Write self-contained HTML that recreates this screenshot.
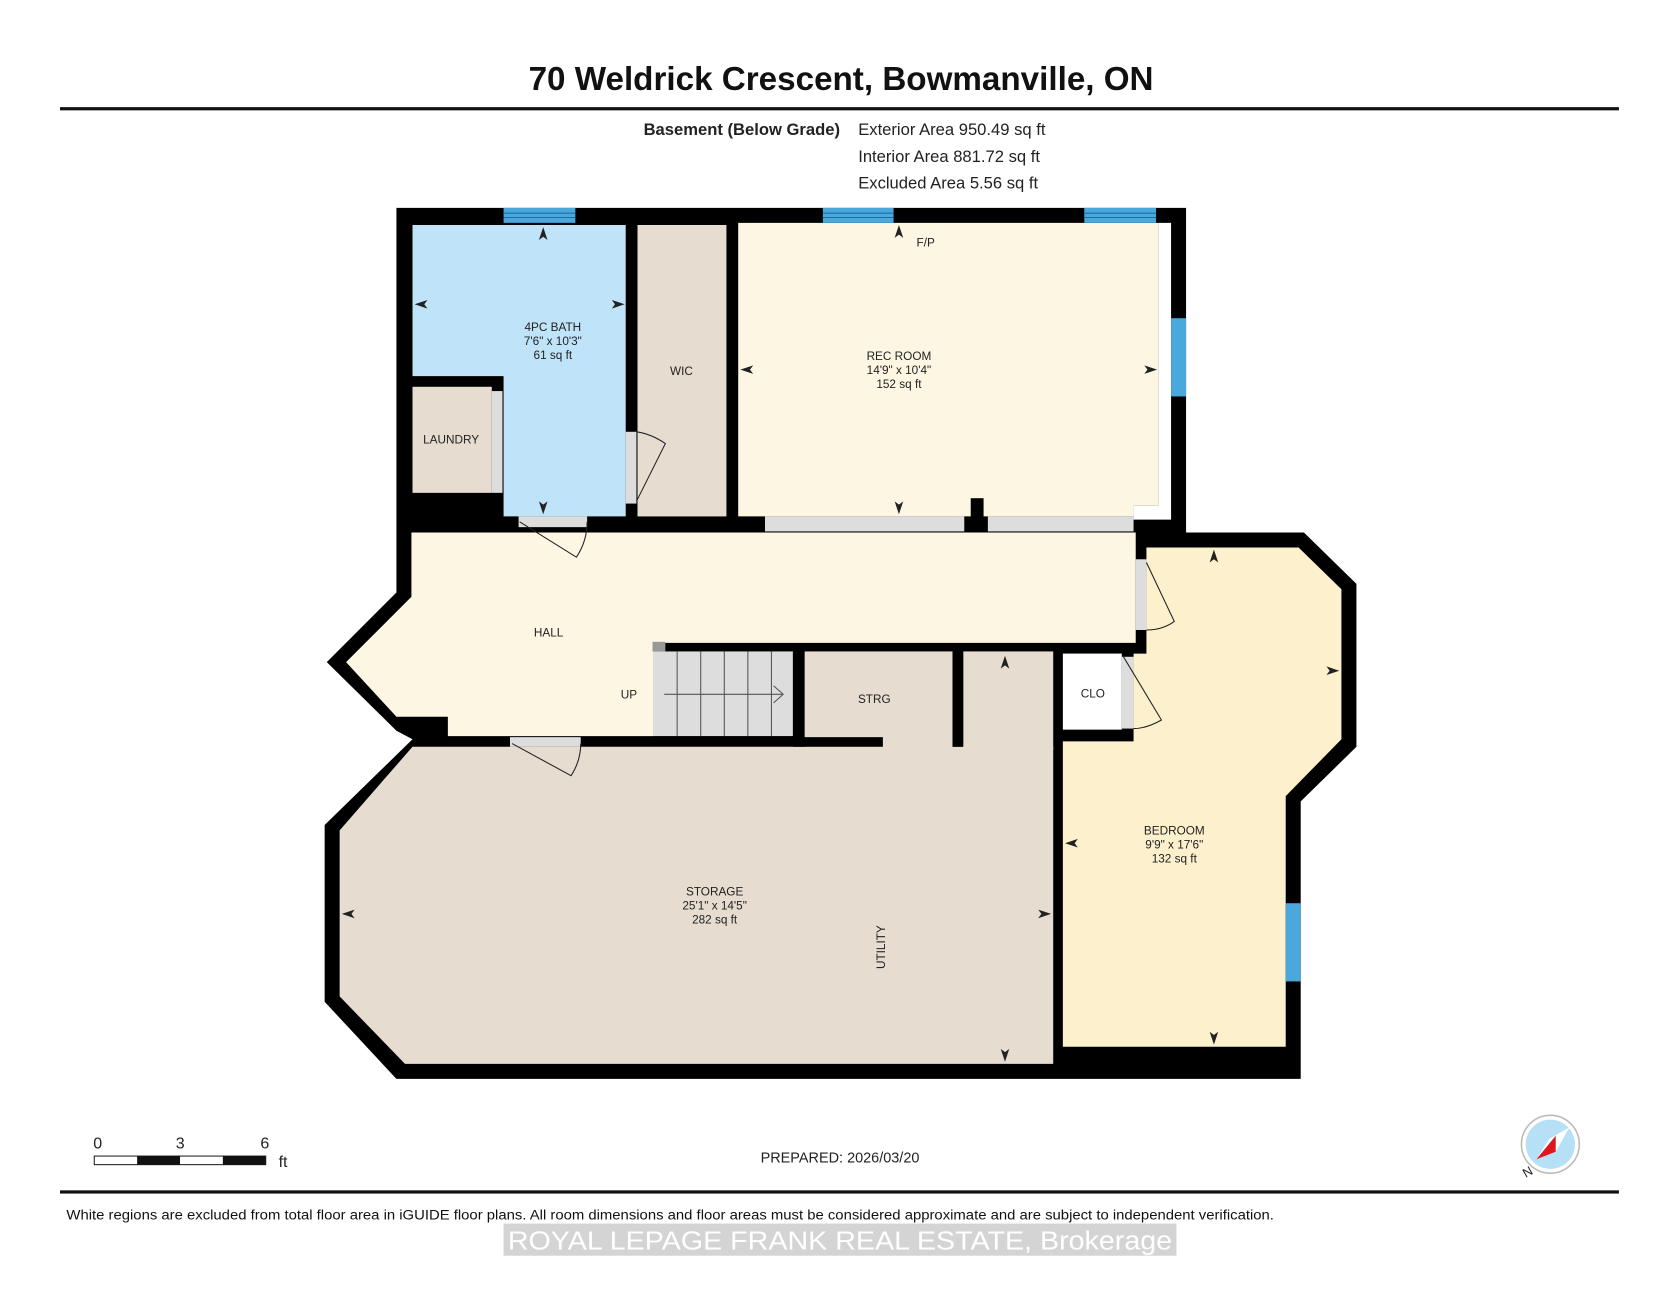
<!DOCTYPE html>
<html><head><meta charset="utf-8"><style>
html,body{margin:0;padding:0;background:#fff}
svg{display:block}
text{font-family:"Liberation Sans",Arial,sans-serif}
</style></head><body>
<svg width="1680" height="1299" viewBox="0 0 1568 1212.4" xmlns="http://www.w3.org/2000/svg">
<rect width="1568" height="1213" fill="#fff"/>
<text x="785" y="84" font-size="31" font-weight="bold" text-anchor="middle" fill="#111">70 Weldrick Crescent, Bowmanville, ON</text>
<rect x="56" y="100" width="1455" height="3" fill="#111"/>
<text x="784" y="126" font-size="15.5" font-weight="bold" text-anchor="end" fill="#222">Basement (Below Grade)</text>
<text x="801" y="126" font-size="15.5" fill="#222">Exterior Area 950.49 sq ft</text>
<text x="801" y="151" font-size="15.5" fill="#222">Interior Area 881.72 sq ft</text>
<text x="801" y="176" font-size="15.5" fill="#222">Excluded Area 5.56 sq ft</text>

<polygon fill="#000" points="370,194 1107,194 1107,497 1217,497 1266,545 1266,697 1214,748 1214,1007 370,1007 303,935 303,770 385,690 370,682 305,618 370,553"/>

<polygon fill="#bfe3f9" points="385,210 584,210 584,482 470,482 470,351 385,351"/>
<rect x="385" y="361" width="74" height="99" fill="#e6ddd0"/>
<rect x="459" y="365" width="10" height="95" fill="#ddd"/>
<rect x="584" y="403" width="10" height="67" fill="#ddd"/>
<rect x="595" y="210" width="83" height="272" fill="#e6ddd0"/>
<polygon fill="#fdf6e3" points="689,208 1081,208 1081,472 1058,472 1058,482 689,482"/>
<polygon fill="#fff" points="1081,208 1093,208 1093,485 1058,485 1058,472 1081,472"/>
<rect x="714" y="482" width="186" height="14" fill="#ddd"/>
<rect x="922" y="482" width="136" height="14" fill="#ddd"/>
<rect x="906" y="465" width="12" height="18" fill="#000"/>
<polygon fill="#fdf6e3" points="384,497 1060,497 1060,600 610,600 610,687 418,687 418,669 370,669 323,618 384,557"/>
<rect x="1060" y="522" width="10" height="66" fill="#ddd"/>
<rect x="484" y="482" width="64" height="10" fill="#ddd"/>
<rect x="610" y="608" width="130" height="79" fill="#ddd"/>
<g stroke="#555" stroke-width="1"><line x1="632" y1="608" x2="632" y2="687"/><line x1="654" y1="608" x2="654" y2="687"/><line x1="676" y1="608" x2="676" y2="687"/><line x1="698" y1="608" x2="698" y2="687"/><line x1="720" y1="608" x2="720" y2="687"/>
<line x1="620" y1="648" x2="730" y2="648"/><polyline fill="none" points="722,640 731,648 722,656"/></g>
<rect x="609" y="599" width="12" height="9" fill="#999"/>
<rect x="751" y="608" width="138" height="92" fill="#e6ddd0"/>
<rect x="899" y="608" width="84" height="92" fill="#e6ddd0"/>
<polygon fill="#e6ddd0" points="385,697 983,697 983,993 378,993 317,930 317,775"/>
<rect x="740" y="688" width="84" height="9" fill="#000"/>
<rect x="889" y="608" width="10" height="89" fill="#000"/>
<rect x="476" y="688" width="66" height="9" fill="#ddd"/>
<polygon fill="#fdf0cc" points="1070,511 1212,511 1252,550 1252,690 1200,743 1200,977 992,977 992,692 1058,692 1058,610 1070,610"/>
<rect x="992" y="610" width="55" height="71" fill="#fff"/>
<rect x="1047" y="613" width="11" height="67" fill="#ddd"/>
<g fill="#4aa8dc"><rect x="470" y="194" width="67" height="14"/><rect x="768" y="194" width="66" height="14"/><rect x="1012" y="194" width="67" height="14"/><rect x="1093" y="297" width="14" height="73"/><rect x="1200" y="843" width="14" height="73"/></g>
<g stroke="#1d6e9e" stroke-width="1"><line x1="470" y1="199" x2="537" y2="199"/><line x1="470" y1="203" x2="537" y2="203"/><line x1="768" y1="199" x2="834" y2="199"/><line x1="768" y1="203" x2="834" y2="203"/><line x1="1012" y1="199" x2="1079" y2="199"/><line x1="1012" y1="203" x2="1079" y2="203"/></g>
<g fill="none" stroke="#222" stroke-width="1">
<path d="M485,487 L538,520 Q548,505 548,487"/>
<path d="M594,468 L621,414 Q608,405 594,403"/>
<path d="M1070,525 L1096,580 Q1085,588 1070,588"/>
<path d="M1048,612 L1084,672 Q1070,680 1058,680"/>
<path d="M478,694 L533,724 Q542,710 542,694"/>
</g>
<g fill="#222">
<polygon points="507,212 503,224 507,221 511,224"/>
<polygon points="507,480 503,468 507,471 511,468"/>
<polygon points="387,284 399,280 396,284 399,288"/>
<polygon points="583,284 571,280 574,284 571,288"/>
<polygon points="839,210 835,222 839,219 843,222"/>
<polygon points="839,480 835,468 839,471 843,468"/>
<polygon points="691,345 703,341 700,345 703,349"/>
<polygon points="1080,345 1068,341 1071,345 1068,349"/>
<polygon points="1133,513 1129,525 1133,522 1137,525"/>
<polygon points="1133,975 1129,963 1133,966 1137,963"/>
<polygon points="994,787 1006,783 1003,787 1006,791"/>
<polygon points="1250,626 1238,622 1241,626 1238,630"/>
<polygon points="938,612 934,624 938,621 942,624"/>
<polygon points="938,991 934,979 938,982 942,979"/>
<polygon points="319,853 331,849 328,853 331,857"/>
<polygon points="981,853 969,849 972,853 969,857"/>
</g>
<g font-size="11" fill="#222" text-anchor="middle">
<text x="516" y="309">4PC BATH</text><text x="516" y="322">7'6" x 10'3"</text><text x="516" y="335">61 sq ft</text>
<text x="421" y="414">LAUNDRY</text>
<text x="636" y="350">WIC</text>
<text x="864" y="230">F/P</text>
<text x="839" y="336">REC ROOM</text><text x="839" y="349">14'9" x 10'4"</text><text x="839" y="362">152 sq ft</text>
<text x="512" y="594">HALL</text>
<text x="587" y="652">UP</text>
<text x="816" y="656">STRG</text>
<text x="1020" y="651">CLO</text>
<text x="1096" y="779">BEDROOM</text><text x="1096" y="792">9'9" x 17'6"</text><text x="1096" y="805">132 sq ft</text>
<text x="667" y="836">STORAGE</text><text x="667" y="849">25'1" x 14'5"</text><text x="667" y="862">282 sq ft</text>
<text x="0" y="0" transform="translate(826,884) rotate(-90)">UTILITY</text>
</g>
<rect x="88" y="1079" width="160" height="8" fill="#fff" stroke="#222" stroke-width="1"/>
<rect x="128" y="1079" width="40" height="8" fill="#111"/><rect x="208" y="1079" width="40" height="8" fill="#111"/>
<g font-size="15" fill="#222"><text x="87" y="1072">0</text><text x="164" y="1072">3</text><text x="243" y="1072">6</text><text x="260" y="1089">ft</text></g>
<text x="784" y="1085" font-size="13.5" text-anchor="middle" fill="#222">PREPARED: 2026/03/20</text>
<circle cx="1447" cy="1068" r="27" fill="#fff" stroke="#bbb" stroke-width="1.5"/>
<circle cx="1447" cy="1068" r="23" fill="#b6e0f5"/>
<polygon points="1465,1052 1452,1075 1434,1082 1446,1063" fill="#fff"/>
<polygon points="1452,1060 1452,1075 1434,1082" fill="#e0141e"/>
<text x="1422" y="1100" font-size="12" fill="#222" transform="rotate(-30 1422 1096)">N</text>
<rect x="56" y="1111" width="1455" height="3" fill="#111"/>
<text x="62" y="1138" font-size="12.5" fill="#111" textLength="1127" lengthAdjust="spacingAndGlyphs">White regions are excluded from total floor area in iGUIDE floor plans. All room dimensions and floor areas must be considered approximate and are subject to independent verification.</text>
<rect x="470" y="1142" width="628" height="30" fill="#d4d4d4"/>
<text x="784" y="1166" font-size="24" fill="#fff" text-anchor="middle" textLength="620" lengthAdjust="spacingAndGlyphs">ROYAL LEPAGE FRANK REAL ESTATE, Brokerage</text>
</svg>
</body></html>
